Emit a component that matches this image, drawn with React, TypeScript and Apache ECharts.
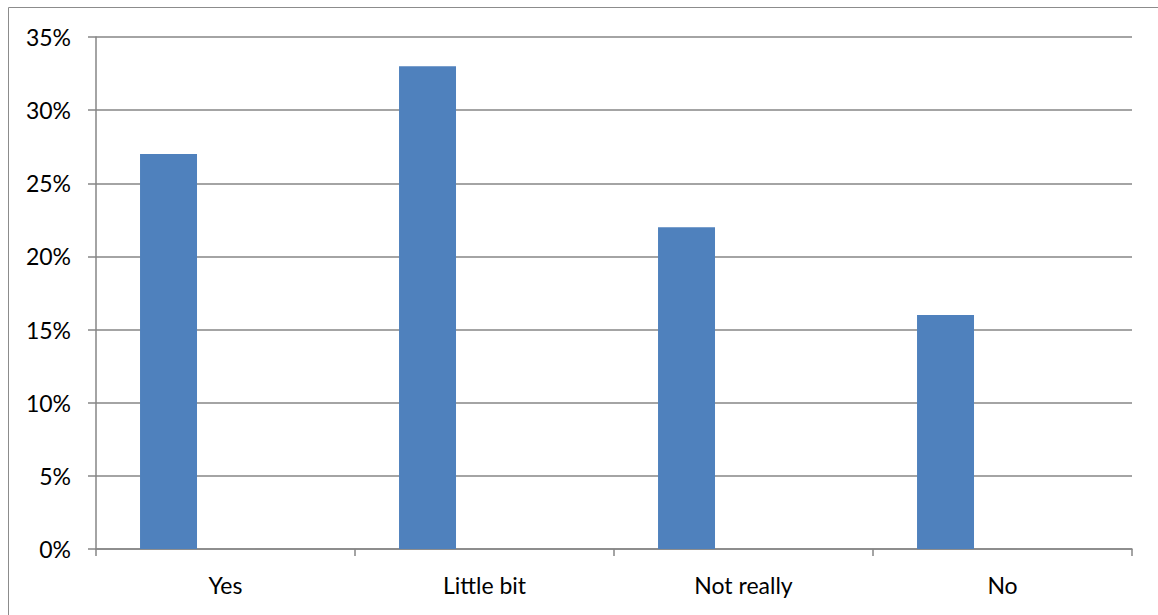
import React, { useEffect, useRef } from "react";
import * as echarts from "echarts";

const categories = ["Yes", "Little bit", "Not really", "No"];
const values = [27, 33, 22, 16];
const emptyA: (number | null)[] = [null, null, null, null];
const emptyB: (number | null)[] = [null, null, null, null];

export default function App() {
  const ref = useRef<HTMLDivElement>(null);
  useEffect(() => {
    const chart = echarts.init(ref.current!, null, { renderer: "svg" });
    const font = "Lato, 'Open Sans', sans-serif";
    chart.setOption({
      animation: false,
      backgroundColor: "#ffffff",
      grid: { left: 96, top: 37, right: 26, bottom: 66, containLabel: false },
      graphic: [
        {
          type: "rect",
          shape: { x: 8.5, y: 7.5, width: 1200, height: 700 },
          style: { fill: "none", stroke: "#8c8c8c", lineWidth: 1 },
          silent: true,
        },
      ],
      xAxis: {
        type: "category",
        data: categories,
        boundaryGap: true,
        axisLine: { show: true, lineStyle: { color: "#868686", width: 1.5 } },
        axisTick: { show: true, length: 7, lineStyle: { color: "#868686", width: 1.5 } },
        axisLabel: { color: "#000", fontSize: 23, fontFamily: font, margin: 24 },
        splitLine: { show: false },
      },
      yAxis: {
        type: "value",
        min: 0,
        max: 35,
        interval: 5,
        axisLine: { show: true, lineStyle: { color: "#868686", width: 1.5 } },
        axisTick: { show: true, length: 8, lineStyle: { color: "#868686", width: 1.5 } },
        axisLabel: {
          color: "#000",
          fontSize: 23,
          fontFamily: font,
          margin: 25,
          formatter: (v: number) => v + "%",
        },
        splitLine: { show: true, lineStyle: { color: "#868686", width: 1.5 } },
      },
      series: [
        {
          type: "bar",
          data: values,
          barGap: "0%",
          barCategoryGap: "34%",
          itemStyle: { color: "#4F81BD" },
        },
        { type: "bar", data: emptyA, barGap: "0%", barCategoryGap: "34%" },
        { type: "bar", data: emptyB, barGap: "0%", barCategoryGap: "34%" },
      ],
    });
    return () => chart.dispose();
  }, []);
  return (
    <div
      ref={ref}
      style={{ position: "absolute", left: 0, top: 0, width: 1158, height: 615 }}
    />
  );
}
